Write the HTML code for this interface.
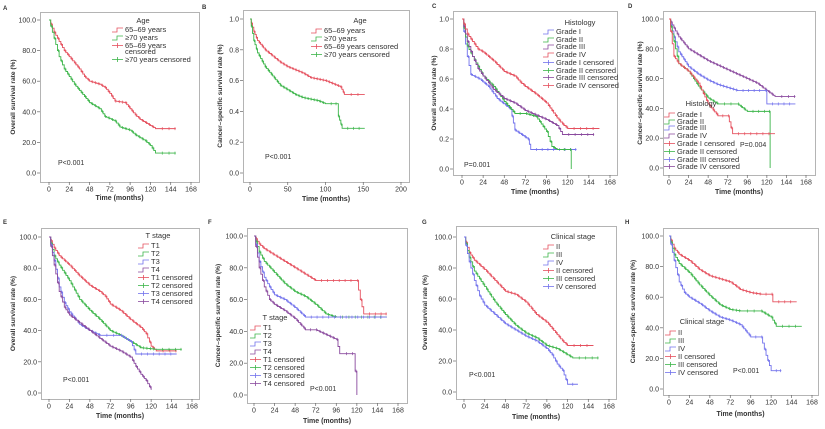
<!DOCTYPE html>
<html><head><meta charset="utf-8"><style>
html,body{margin:0;padding:0;background:#fff;}
svg{display:block;font-family:"Liberation Sans","DejaVu Sans",sans-serif;}
</style></head><body>
<svg id="s" width="825" height="429" xmlns="http://www.w3.org/2000/svg"></svg>
<script>
const R='#e5505e',G='#3cb54a',B='#7272ec',P='#8a4a9e';
const panels=[
{L:'A',lx:3,ly:10,box:[40,12,199,182],x0:49,x1:191,xmax:168,xt:[0,24,48,72,96,120,144,168],y0:173,y1:20,ymax:100,yt:['0.0','20.0','40.0','60.0','80.0','100.0'],ylab:'Overall survival rate (%)',ylx:13,xly:200,
 p:['P<0.001',58,165],
 leg:{title:['Age',143,23],x:125,rows:[['65–69 years',32,R,0],['≥70 years',40,G,0],['65–69 years',48,R,1],['censored',54,null],['≥70 years censored',62,G,1]]},
 c:[[R,[[0,100],[6,92],[12,86],[18,80],[24,76],[30,72],[36,68],[42,63],[48,60],[60,58],[66,56],[72,52],[78,47],[90,46],[96,42],[102,38],[108,35],[114,33],[120,31],[126,29],[150,29]]],
    [G,[[0,100],[6,88],[12,76],[18,68],[24,63],[30,58],[36,54],[42,50],[48,46],[60,42],[66,37],[78,34],[84,30],[96,28],[102,25],[108,23],[114,21],[120,18],[126,13],[150,13]]]]},
{L:'B',lx:202,ly:9,box:[243,10,409,182],x0:250,x1:401,xmax:200,xt:[0,50,100,150,200],y0:173,y1:19,ymax:1,yt:['0.0','0.2','0.4','0.6','0.8','1.0'],ylab:'Cancer–specific survival rate (%)',ylx:220,xly:201,
 p:['P<0.001',265,159],
 leg:{title:['Age',360,23],x:324,rows:[['65–69 years',33,R,0],['≥70 years',41,G,0],['65–69 years censored',49,R,1],['≥70 years censored',57,G,1]]},
 c:[[R,[[0,1],[5,.92],[10,.86],[20,.8],[30,.76],[40,.72],[50,.69],[60,.67],[70,.65],[80,.62],[100,.6],[110,.58],[120,.56],[125,.51],[152,.51]]],
    [G,[[0,1],[5,.86],[10,.78],[20,.69],[30,.63],[40,.57],[50,.54],[60,.51],[70,.49],[90,.47],[100,.45],[115,.45],[117,.37],[122,.29],[152,.29]]]]},
{L:'C',lx:432,ly:8,box:[453,11,617,175],x0:462,x1:610,xmax:168,xt:[0,24,48,72,96,120,144,168],y0:169,y1:19,ymax:1,yt:['0.0','0.2','0.4','0.6','0.8','1.0'],ylab:'Overall survival rate (%)',ylx:434,xly:194,
 p:['P=0.001',464,167],
 leg:{title:['Histology',580,25],x:556,rows:[['Grade I',34,B,0],['Grade II',42,G,0],['Grade III',49,P,0],['Grade IV',57,R,0],['Grade I censored',65,B,1],['Grade II censored',73,G,1],['Grade III censored',80,P,1],['Grade IV censored',88,R,1]]},
 c:[[B,[[0,1],[6,.75],[10,.63],[20,.6],[30,.55],[40,.47],[55,.4],[60,.26],[75,.2],[78,.13],[130,.13]]],
    [G,[[0,1],[6,.82],[12,.75],[24,.62],[36,.55],[48,.45],[60,.37],[72,.37],[84,.35],[96,.25],[102,.15],[108,.13],[124,.13],[124,0]]],
    [P,[[0,1],[6,.85],[12,.75],[18,.67],[24,.62],[36,.53],[48,.47],[60,.44],[72,.39],[84,.36],[96,.33],[108,.29],[114,.23],[150,.23]]],
    [R,[[0,1],[6,.9],[12,.85],[18,.8],[24,.78],[36,.72],[48,.65],[60,.62],[66,.58],[72,.55],[84,.5],[96,.44],[102,.39],[108,.34],[114,.3],[120,.27],[156,.27]]]]},
{L:'D',lx:628,ly:8,box:[663,11,815,175],x0:669,x1:806,xmax:168,xt:[0,24,48,72,96,120,144,168],y0:168,y1:19,ymax:100,yt:['0.0','20.0','40.0','60.0','80.0','100.0'],ylab:'Cancer–specific survival rate (%)',ylx:640,xly:194,
 p:['P=0.004',740,147],
 leg:{title:['Histology',701,106],x:677,rows:[['Grade I',117,R,0],['Grade II',124,G,0],['Grade III',130,B,0],['Grade IV',138,P,0],['Grade I censored',146,R,1],['Grade II censored',154,G,1],['Grade III censored',162,B,1],['Grade IV censored',169,P,1]]},
 c:[[P,[[0,100],[6,94],[12,88],[24,80],[36,76],[48,72],[60,69],[72,66],[84,63],[96,60],[108,57],[120,52],[130,48],[155,48]]],
    [B,[[0,100],[6,88],[12,78],[24,68],[36,63],[48,59],[60,56],[72,54],[84,52],[118,52],[120,43],[155,43]]],
    [G,[[0,100],[6,85],[12,70],[24,65],[36,55],[48,47],[60,43],[84,43],[96,38],[124,38],[124,0]]],
    [R,[[0,100],[6,75],[12,70],[24,65],[36,57],[48,43],[60,35],[72,35],[78,23],[130,23]]]]},
{L:'E',lx:3,ly:224,box:[41,228,199,399],x0:49,x1:192,xmax:168,xt:[0,24,48,72,96,120,144,168],y0:393,y1:237,ymax:100,yt:['0.0','20.0','40.0','60.0','80.0','100.0'],ylab:'Overall survival rate (%)',ylx:13,xly:418,
 p:['P<0.001',63,382],
 leg:{title:['T stage',158,238],x:151,rows:[['T1',248,R,0],['T2',256,G,0],['T3',264,B,0],['T4',272,P,0],['T1 censored',280,R,1],['T2 censored',288,G,1],['T3 censored',296,B,1],['T4 censored',304,P,1]]},
 c:[[R,[[0,100],[6,93],[12,88],[24,82],[36,75],[48,69],[60,65],[66,62],[72,57],[84,53],[96,47],[108,42],[114,38],[120,30],[126,27],[150,27]]],
    [G,[[0,100],[6,88],[12,82],[24,72],[36,60],[48,53],[60,47],[72,40],[84,37],[96,33],[108,29],[126,28],[156,28]]],
    [B,[[0,100],[6,85],[12,68],[18,58],[24,52],[36,44],[48,40],[60,37],[84,37],[96,33],[102,25],[150,25]]],
    [P,[[0,100],[6,82],[12,65],[18,55],[24,50],[36,45],[48,40],[60,35],[72,30],[84,27],[96,23],[102,17],[108,12],[114,8],[120,2]]]]},
{L:'F',lx:208,ly:224,box:[247,228,407,403],x0:254,x1:398,xmax:168,xt:[0,24,48,72,96,120,144,168],y0:395,y1:236,ymax:100,yt:['0.0','20.0','40.0','60.0','80.0','100.0'],ylab:'Cancer–specific survival rate (%)',ylx:218,xly:423,
 p:['P<0.001',310,391],
 leg:{title:['T stage',275,320],x:263,rows:[['T1',330,R,0],['T2',338,G,0],['T3',346,B,0],['T4',354,P,0],['T1 censored',362,R,1],['T2 censored',370,G,1],['T3 censored',378,B,1],['T4 censored',386,P,1]]},
 c:[[R,[[0,100],[6,95],[12,92],[24,88],[36,84],[48,80],[60,76],[72,72],[120,72],[124,60],[128,51],[155,51]]],
    [G,[[0,100],[6,90],[12,84],[24,77],[36,70],[48,65],[60,62],[72,57],[84,51],[96,49],[155,49]]],
    [B,[[0,100],[6,84],[12,74],[18,68],[24,63],[36,60],[48,55],[60,49],[155,49]]],
    [P,[[0,100],[6,80],[12,68],[18,60],[24,57],[36,53],[48,48],[60,41],[72,41],[84,38],[96,35],[100,26],[116,26],[118,15],[120,10],[120,0]]]]},
{L:'G',lx:422,ly:224,box:[456,226,616,399],x0:464,x1:609,xmax:168,xt:[0,24,48,72,96,120,144,168],y0:392,y1:237,ymax:100,yt:['0.0','20.0','40.0','60.0','80.0','100.0'],ylab:'Overall survival rate (%)',ylx:425,xly:419,
 p:['P<0.001',469,377],
 leg:{title:['Clinical stage',573,239],x:556,rows:[['II',249,R,0],['III',257,G,0],['IV',265,B,0],['II censored',273,R,1],['III censored',281,G,1],['IV censored',289,B,1]]},
 c:[[R,[[0,100],[6,90],[12,85],[24,79],[36,72],[48,65],[60,63],[72,58],[84,50],[96,45],[108,37],[114,33],[120,30],[150,30]]],
    [G,[[0,100],[6,87],[12,78],[24,68],[36,58],[48,50],[60,43],[72,38],[84,35],[96,30],[108,28],[126,22],[156,22]]],
    [B,[[0,100],[6,84],[12,72],[18,62],[24,56],[36,50],[48,44],[60,40],[72,36],[84,33],[96,28],[102,24],[108,18],[114,14],[120,5],[132,5]]]]},
{L:'H',lx:625,ly:224,box:[663,228,818,395],x0:669,x1:812,xmax:168,xt:[0,24,48,72,96,120,144,168],y0:389,y1:236,ymax:100,yt:['0.0','20.0','40.0','60.0','80.0','100.0'],ylab:'Cancer–specific survival rate (%)',ylx:633,xly:416,
 p:['P<0.001',733,373],
 leg:{title:['Clinical stage',702,324],x:678,rows:[['II',335,R,0],['III',343,G,0],['IV',351,B,0],['II censored',359,R,1],['III censored',367,G,1],['IV censored',375,B,1]]},
 c:[[R,[[0,100],[6,92],[12,88],[24,84],[36,78],[48,74],[60,72],[72,70],[84,65],[96,63],[108,62],[120,62],[122,57],[150,57]]],
    [G,[[0,100],[6,88],[12,82],[24,76],[36,68],[48,61],[60,55],[72,52],[84,51],[108,51],[120,47],[126,41],[156,41]]],
    [B,[[0,100],[6,84],[12,70],[18,63],[24,60],[36,56],[48,51],[60,47],[72,45],[84,42],[96,34],[108,34],[114,22],[120,12],[132,12]]]]}
];
let h='';
const T=(x,y,s,o)=>`<text x="${x}" y="${y}" ${o||''}>${s}</text>`;
for(const p of panels){
 const [bx0,by0,bx1,by1]=p.box;
 const X=t=>p.x0+(p.x1-p.x0)*t/p.xmax, Y=v=>p.y0+(p.y1-p.y0)*v/p.ymax;
 h+=`<rect x="${bx0}.5" y="${by0}.5" width="${bx1-bx0}" height="${by1-by0}" fill="#fff" stroke="#b4b4b4" stroke-width="1"/>`;
 h+=T(p.lx,p.ly,p.L,'font-size="6" font-weight="bold" fill="#333"');
 for(const t of p.xt){const x=X(t);h+=`<line x1="${x}" y1="${by1}" x2="${x}" y2="${by1+3}" stroke="#666" stroke-width="0.7"/>`+T(x,by1+9.5,t,'font-size="7" fill="#333" text-anchor="middle"');}
 p.yt.forEach((s,i)=>{const y=p.y0+(p.y1-p.y0)*i/(p.yt.length-1);h+=`<line x1="${bx0-3}" y1="${y}" x2="${bx0}" y2="${y}" stroke="#666" stroke-width="0.7"/>`+T(bx0-4,y+2.5,s,'font-size="7" fill="#333" text-anchor="end"');});
 h+=T((bx0+bx1)/2,p.xly,'Time (months)','font-size="7" font-weight="bold" fill="#333" text-anchor="middle"');
 const cy=(by0+by1)/2;
 h+=`<text x="${p.ylx}" y="${cy}" transform="rotate(-90 ${p.ylx} ${cy})" font-size="6.6" font-weight="bold" fill="#333" text-anchor="middle" dominant-baseline="middle">${p.ylab}</text>`;
 h+=T(p.p[1],p.p[2],p.p[0],'font-size="7" fill="#333"');
 for(const [col,pts0] of p.c){
  // subdivide into finer steps
  const pts=[pts0[0]];
  for(let i=1;i<pts0.length;i++){const [ta,va]=pts0[i-1],[tb,vb]=pts0[i];
   const drop=va-vb;const n=(drop>0 && tb>ta)?Math.max(1,Math.round((tb-ta)/2)):1;
   for(let k=1;k<=n;k++)pts.push([ta+(tb-ta)*k/n,va-drop*k/n]);}
  let d=`M${X(pts[0][0])},${Y(pts[0][1])}`;const ticks=[];
  for(let i=1;i<pts.length;i++){const xa=X(pts[i][0]);d+=` H${xa.toFixed(2)} V${Y(pts[i][1]).toFixed(2)}`;
   if(i%2==0)ticks.push([xa-0.8,Y(pts[i-1][1])]);
   const xp=X(pts[i-1][0]);const n=Math.max(0,Math.round((xa-xp)/6)-1);for(let k=1;k<=n;k++)ticks.push([xp+(xa-xp)*k/(n+1),Y(pts[i-1][1])]);}
  h+=`<path d="${d}" fill="none" stroke="${col}" stroke-width="0.9"/>`;
  for(const [tx,ty] of ticks)h+=`<line x1="${tx}" y1="${ty-1.5}" x2="${tx}" y2="${ty+1.5}" stroke="${col}" stroke-width="0.7"/>`;
 }
 const lg=p.leg;
 h+=T(lg.title[1],lg.title[2],lg.title[0],'font-size="7.5" fill="#333" text-anchor="middle"');
 for(const [s,y,col,cen] of lg.rows){
  if(col){const x=lg.x-13;
   if(cen)h+=`<line x1="${x}" y1="${y-2.5}" x2="${x+11}" y2="${y-2.5}" stroke="${col}" stroke-width="0.8"/><line x1="${x+5.5}" y1="${y-5}" x2="${x+5.5}" y2="${y}" stroke="${col}" stroke-width="0.8"/>`;
   else h+=`<path d="M${x},${y} H${x+5} V${y-4} H${x+11}" fill="none" stroke="${col}" stroke-width="0.8"/>`;}
  h+=T(lg.x,y,s,'font-size="7.5" fill="#333"');
 }
}
document.getElementById('s').innerHTML=h;
</script>
</body></html>
